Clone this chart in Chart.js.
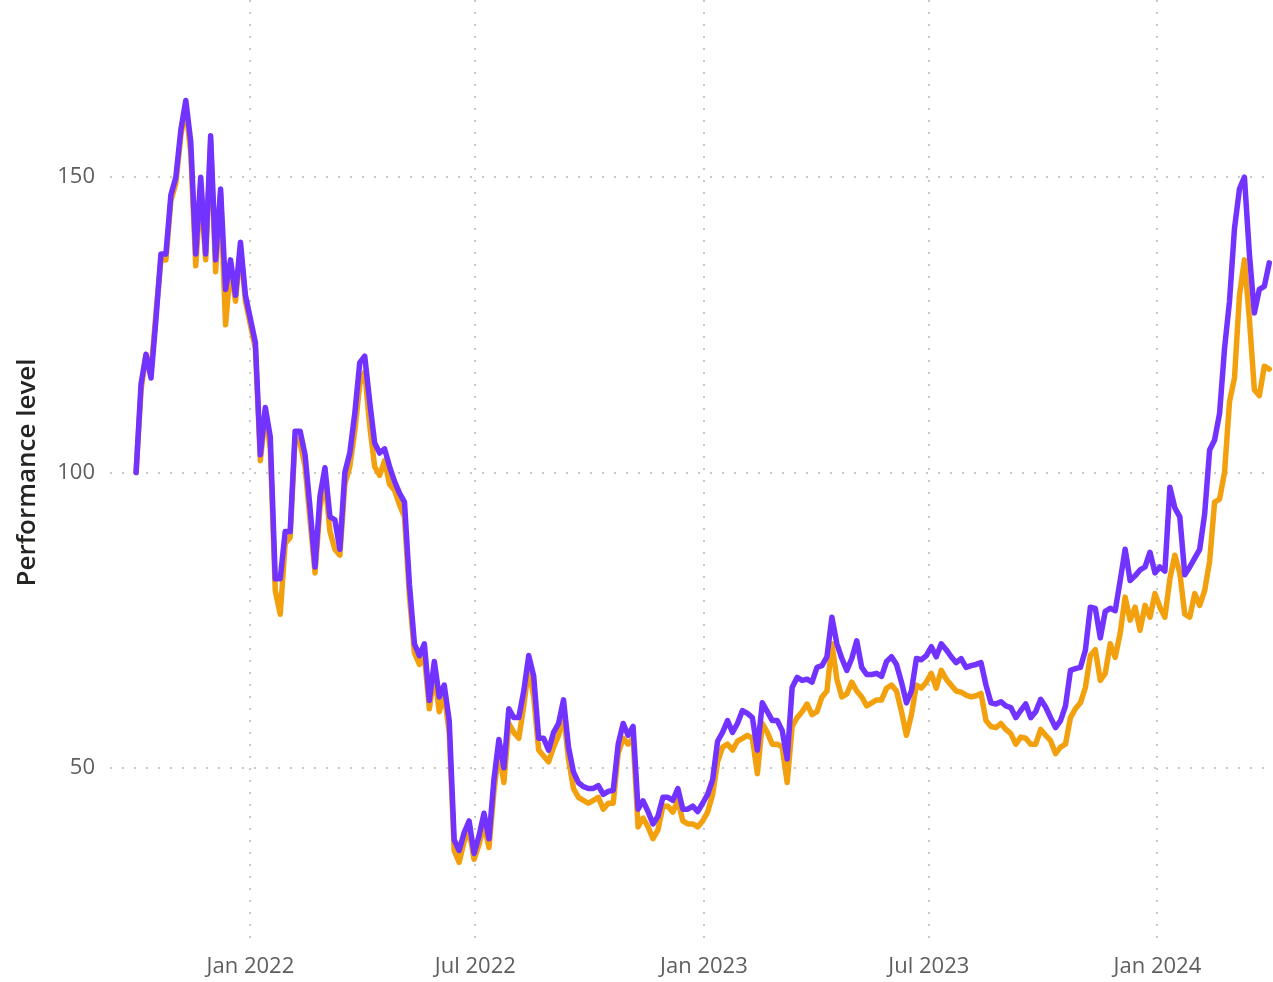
<!DOCTYPE html>
<html>
<head>
<meta charset="utf-8">
<script src="https://cdn.jsdelivr.net/npm/chart.js@4.4.1/dist/chart.umd.min.js"></script>
<style>
  html, body { margin: 0; padding: 0; background: #fff; }
  #wrap { width: 1273px; height: 982px; }
</style>
</head>
<body>
<div id="wrap"><canvas id="grafico"></canvas></div>
<script>
// sampling grid: one reading every 4 days from the start date
const startDate = '2021-10-01';
const stepDays = 4;

const purpleValues = [
  100, 115, 120, 116, 126, 137, 137, 147, 150, 158,
  163, 156, 137, 150, 137, 157, 136, 148, 131, 136,
  130, 139, 130, 126, 122, 103, 111, 106, 82, 82,
  90, 90, 107, 107, 103, 94, 84, 96, 100.8, 92.5,
  92, 87, 100, 103.3, 110, 118.6, 119.7, 112, 105, 103.3,
  104, 101, 98.5, 96.5, 95, 81, 71, 69, 71, 61.4,
  68, 62, 64, 58, 37.8, 36, 39, 41, 35.5, 38.5,
  42.3, 38, 48, 54.8, 50, 60, 58.5, 58.5, 63, 69,
  65.5, 55, 55, 53, 56, 57.5, 61.5, 53.5, 49.3, 47.5,
  46.8, 46.5, 46.5, 47, 45.5, 46, 46.2, 54, 57.5, 55.5,
  57, 43, 44.4, 42.6, 40.5, 41.8, 45, 45, 44.5, 46.5,
  43, 43, 43.5, 42.6, 44, 45.5, 48, 54.5, 56, 58,
  56, 57.5, 59.7, 59.2, 58.5, 53, 61, 59.5, 58, 58,
  56.3, 51.5, 63.6, 65.3, 64.8, 65, 64.5, 67, 67.3, 68.8,
  75.5, 71, 68.5, 66.5, 68.5, 71.5, 67, 65.8, 65.8, 66,
  65.5, 68, 68.8, 67.5, 64.5, 61, 63, 68.5, 68.3, 69,
  70.5, 68.8, 71, 70, 68.8, 67.8, 68.5, 67, 67.3, 67.5,
  67.8, 64, 61, 60.8, 61.2, 60.5, 60.2, 58.5, 59.7, 60.8,
  58.5, 59.5, 61.6, 60.3, 58.5, 56.8, 58, 60.5, 66.5, 66.8,
  67, 69.9, 77.2, 77, 72, 76.5, 77, 76.6, 81.7, 87,
  81.7, 82.5, 83.5, 84, 86.5, 83, 84, 83.3, 97.5, 94,
  92.5, 82.7, 84, 85.5, 87, 93, 103.8, 105.5, 110, 121,
  129, 141.3, 148, 150, 137, 127, 131, 131.5, 135.5
];

const orangeValues = [
  100, 114, 120, 117, 127, 136, 136, 146, 149, 157,
  162, 154, 135, 148, 136, 156, 134, 147, 125, 135,
  129, 138, 129, 125, 121, 102, 110, 104, 80, 76,
  88, 89, 106, 105, 101, 92, 83, 94, 99, 90,
  87, 86, 98, 101, 107, 115, 117, 108, 101, 99.5,
  102, 98, 97, 94.5, 92.5, 79, 69.5, 67.5, 69, 60,
  66, 59.5, 62.5, 56, 36, 34, 37.5, 39.5, 34.5, 37,
  40.5, 36.5, 46, 53, 47.5, 57.5, 56, 55, 60.5, 67,
  62, 53, 52, 51, 53.5, 55.5, 59, 51.5, 46.5, 45,
  44.5, 44, 44.5, 45, 43, 44, 44, 52.5, 55, 54,
  55, 40, 41.5, 40, 38, 39.5, 43.5, 43.5, 42.5, 44.5,
  41, 40.5, 40.5, 40, 41, 42.5, 45.5, 51, 53.5, 54,
  53, 54.5, 55, 55.5, 55, 49, 57.5, 56, 54, 54,
  53.5, 47.5, 57, 58.5, 59.5, 60.8, 59, 59.5, 62, 63,
  71, 65, 62, 62.5, 64.5, 63, 62, 60.5, 61, 61.5,
  61.5, 63.5, 64, 63, 59.5, 55.5, 59, 64, 63.5, 64.5,
  66, 63.5, 66.5, 65, 64, 63, 62.8, 62.3, 62, 62.2,
  62.6, 58, 57, 56.8, 57.5, 56.5, 55.8, 54, 55.2, 55,
  54, 54, 56.5, 55.5, 54.6, 52.4, 53.5, 54, 58.5, 60,
  61, 63.6, 69, 70, 64.8, 66, 71, 68.7, 72.8, 78.9,
  75, 77.2, 73.3, 77.5, 75.5, 79.5, 77.2, 75.5, 82, 86,
  83, 76, 75.5, 79.5, 77.5, 80, 85, 95, 95.5, 100,
  112, 116, 130, 136, 126, 114, 113, 118, 117.5
];

const tickDates = ['2022-01-01', '2022-07-01', '2023-01-01', '2023-07-01', '2024-01-01'];
const tickLabels = ['Jan 2022', 'Jul 2022', 'Jan 2023', 'Jul 2023', 'Jan 2024'];
const yTicks = [50, 100, 150];

const DAY = 86400000;
const t0 = Date.parse(startDate);
const dates = purpleValues.map((_, i) => t0 + i * stepDays * DAY);
const tickTimes = tickDates.map(d => Date.parse(d));
const pontos = vals => vals.map((v, i) => ({ x: dates[i], y: v }));

const fonte = "'Segoe UI', 'Open Sans', sans-serif";
const corGrade = '#c9c9c9';

// remove the automatic label padding so the plot area fills the canvas
const semPadding = s => { s.paddingTop = 0; s.paddingBottom = 0; s.paddingLeft = 0; s.paddingRight = 0; };

const ctx = document.getElementById('grafico').getContext('2d');
new Chart(ctx, {
  type: 'line',
  data: {
    datasets: [{
      label: 'Purple',
      data: pontos(purpleValues),
      borderColor: '#7232FF',
      borderWidth: 5.5,
      order: 0
    }, {
      label: 'Orange',
      data: pontos(orangeValues),
      borderColor: '#F3A00E',
      borderWidth: 5.5,
      order: 1
    }]
  },
  options: {
    responsive: true,
    maintainAspectRatio: false,
    animation: false,
    layout: { padding: 0 },
    elements: {
      point: { radius: 0 },
      line: { tension: 0, borderJoinStyle: 'round', borderCapStyle: 'round' }
    },
    plugins: {
      legend: { display: false },
      tooltip: { enabled: false }
    },
    scales: {
      x: {
        type: 'linear',
        min: Date.UTC(2021, 8, 10),
        max: Date.UTC(2024, 3, 3),
        afterBuildTicks: s => { s.ticks = tickTimes.map(v => ({ value: v })); },
        afterFit: s => { s.height = 37; semPadding(s); },
        ticks: {
          autoSkip: false,
          maxRotation: 0,
          padding: 9,
          color: '#605E5C',
          font: { family: fonte, size: 22 },
          callback: v => tickLabels[tickTimes.indexOf(v)]
        },
        grid: { color: corGrade, lineWidth: 2, drawTicks: false },
        border: { display: false, dash: [2, 10] }
      },
      y: {
        min: 20,
        max: 180,
        afterBuildTicks: s => { s.ticks = yTicks.map(v => ({ value: v })); },
        afterFit: s => { s.width = 110; semPadding(s); },
        ticks: {
          padding: 15,
          color: '#605E5C',
          font: { family: fonte, size: 22 }
        },
        title: {
          display: true,
          text: 'Performance level',
          color: '#252423',
          padding: { top: 12 },
          font: { family: fonte, size: 26, weight: '600' }
        },
        grid: { color: corGrade, lineWidth: 2, drawTicks: false },
        border: { display: false, dash: [2, 10] }
      }
    }
  }
});
</script>
</body>
</html>
